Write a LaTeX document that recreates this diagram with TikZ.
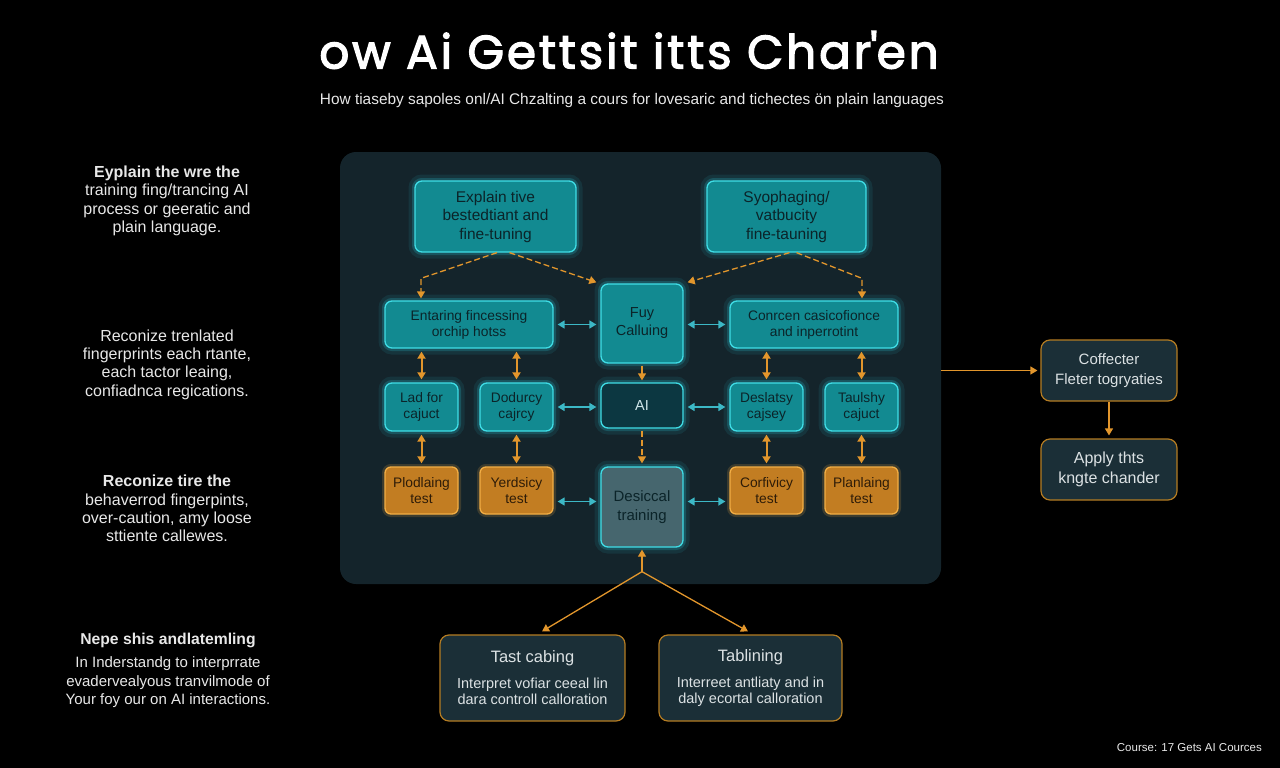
\documentclass[tikz,border=0pt]{standalone}
\usepackage{fontspec}
\setmainfont{Liberation Sans}
\newfontfamily\titlefont[FakeBold=2.6,LetterSpace=6]{Poppins}
\usetikzlibrary{arrows.meta}
\definecolor{bgc}{HTML}{000000}
\definecolor{panelc}{HTML}{14242B}
\definecolor{tealf}{HTML}{128A91}
\definecolor{cyline}{HTML}{3FDDE6}
\definecolor{cyglow}{HTML}{2BC8D8}
\definecolor{tealtxt}{HTML}{0B2429}
\definecolor{aifill}{HTML}{0C3741}
\definecolor{aitxt}{HTML}{CFE6EA}
\definecolor{msfill}{HTML}{46666E}
\definecolor{orfill}{HTML}{C27D22}
\definecolor{orline}{HTML}{F2AE45}
\definecolor{ortxt}{HTML}{2E1C08}
\definecolor{orarrow}{HTML}{E2962C}
\definecolor{cyarrow}{HTML}{3CB8C6}
\definecolor{darkfill}{HTML}{1B2F37}
\definecolor{goldline}{HTML}{B47C22}
\definecolor{lighttxt}{HTML}{DCE2E4}
\definecolor{sidetxt}{HTML}{E8E8E8}
\tikzset{
  glow/.style={preaction={draw=cyglow, line width=13pt, opacity=0.10},
               preaction={draw=cyglow, line width=6pt, opacity=0.22}},
  tbox/.style={glow, draw=cyline, line width=1.3pt, fill=tealf, rounded corners=7pt,
               text=tealtxt, align=center, inner sep=2pt, font=\fontsize{13.8}{16}\selectfont},
  obox/.style={preaction={draw=orline, line width=6pt, opacity=0.18},
               draw=orline, line width=1.3pt, fill=orfill, rounded corners=6pt,
               text=ortxt, align=center, inner sep=2pt, font=\fontsize{13.8}{16}\selectfont,
               minimum width=73pt, minimum height=47pt},
  dbox/.style={draw=goldline, line width=1.2pt, fill=darkfill, rounded corners=9pt,
               text=lighttxt, align=center, inner sep=2pt},
  small/.style={minimum width=73pt, minimum height=48pt},
  oarr/.style={draw=orarrow, line width=1.3pt, -{Triangle[length=7pt,width=8pt]}},
  odash/.style={oarr, dash pattern=on 6pt off 3pt},
  obi/.style={draw=orarrow, line width=2pt,
              {Triangle[length=7pt,width=8pt]}-{Triangle[length=7pt,width=8pt]},
              shorten <=3pt, shorten >=3pt},
  cbi/.style={draw=cyarrow, line width=1.6pt,
              {Triangle[length=7pt,width=8pt]}-{Triangle[length=7pt,width=8pt]},
              shorten <=4pt, shorten >=4pt},
  side/.style={text=sidetxt, align=center, inner sep=0pt, font=\fontsize{16}{18.4}\selectfont},
}
\begin{document}
\begin{tikzpicture}[x=1pt,y=-1pt]
\useasboundingbox (0,0) rectangle (1280,768);
\fill[bgc] (0,0) rectangle (1280,768);

% title
\node[text=white, font=\titlefont\fontsize{47}{52}\selectfont] (title) at (629,50) {ow Ai Gettsit itts Char\kern-1pt'\kern-1pt en};
\node[text=sidetxt, font=\fontsize{15.4}{17}\selectfont] (subtitle) at (632,101) {How tiaseby sapoles onl/AI Chzalting a cours for lovesaric and tichectes ön plain languages};

% left texts
\node[side] (l1) at (167,201) {\textbf{Eyplain the wre the}\\training fing/trancing AI\\process or geeratic and\\plain language.};
\node[side] (l2) at (167,364.5) {Reconize trenlated\\fingerprints each rtante,\\each tactor leaing,\\confiadnca regications.};
\node[side] (l3) at (167,508.5) {\textbf{Reconize tire the}\\behaverrod fingerpints,\\over-caution, amy loose\\sttiente callewes.};
\node[side, font=\bfseries\fontsize{15.7}{18}\selectfont] (l4h) at (168,640) {Nepe shis andlatemling};
\node[side, font=\fontsize{15}{18.4}\selectfont] (l4) at (168,682.5) {In Inderstandg to interprrate\\evadervealyous tranvilmode of\\Your foy our on AI interactions.};

% panel
\node[fill=panelc, rounded corners=16pt, minimum width=601pt, minimum height=432pt, inner sep=0pt] (panel) at (640.5,368) {};

% top row
\node[tbox, minimum width=161pt, minimum height=71pt, font=\fontsize{15.5}{18.5}\selectfont] (A) at (495.5,216.5) {Explain tive\\bestedtiant and\\fine-tuning};
\node[tbox, minimum width=159pt, minimum height=71pt, font=\fontsize{15.5}{18.5}\selectfont] (B) at (786.5,216.5) {Syophaging/\\vatbucity\\fine-tauning};

% second row
\node[tbox, minimum width=168pt, minimum height=47pt] (C) at (469,324.5) {Entaring fincessing\\orchip hotss};
\node[tbox, minimum width=82pt, minimum height=79pt, font=\fontsize{14.5}{18}\selectfont] (D) at (642,323.5) {Fuy\\Calluing};
\node[tbox, minimum width=168pt, minimum height=47pt] (E) at (814,324.5) {Conrcen casicofionce\\and inperrotint};

% third row
\node[tbox, small] (F) at (421.5,407) {Lad for\\cajuct};
\node[tbox, small] (G) at (516.5,407) {Dodurcy\\cajrcy};
\node[tbox, fill=aifill, text=aitxt, minimum width=82pt, minimum height=45pt, font=\fontsize{14.5}{17}\selectfont] (H) at (642,405.5) {AI};
\node[tbox, small] (I) at (766.5,407) {Deslatsy\\cajsey};
\node[tbox, small] (J) at (861.5,407) {Taulshy\\cajuct};

% fourth row
\node[obox] (K) at (421.5,490.5) {Plodlaing\\test};
\node[obox] (L) at (516.5,490.5) {Yerdsicy\\test};
\node[tbox, fill=msfill, text=tealtxt, minimum width=82pt, minimum height=80pt, font=\fontsize{15}{19}\selectfont] (M) at (642,507) {Desiccal\\training};
\node[obox] (N) at (766.5,490.5) {Corfivicy\\test};
\node[obox] (O) at (861.5,490.5) {Planlaing\\test};

% right boxes
\node[dbox, minimum width=136pt, minimum height=61pt, font=\fontsize{15}{20}\selectfont] (P) at (1109,370.5) {Coffecter\\Fleter togryaties};
\node[dbox, minimum width=136pt, minimum height=61pt, font=\fontsize{16}{20}\selectfont] (Q) at (1109,469.5) {Apply thts\\kngte chander};

% bottom boxes
\node[dbox, minimum width=185pt, minimum height=86pt, font=\fontsize{14.5}{16}\selectfont] (R) at (532.5,678) {{\fontsize{16.5}{18}\selectfont Tast cabing}\\[10pt]Interpret vofiar ceeal lin\\dara controll calloration};
\node[dbox, minimum width=183pt, minimum height=86pt, font=\fontsize{14.5}{16}\selectfont] (S) at (750.5,678) {{\fontsize{16.5}{18}\selectfont Tablining}\\[10pt]Interreet antliaty and in\\daly ecortal calloration};

% footer
\node[text=sidetxt, anchor=east, inner sep=0pt, font=\fontsize{11.5}{14}\selectfont] (foot) at (1262,748) {Course: 17 Gets AI Cources};

% connectors: top dashed
\draw[odash] ([xshift=1.5pt]A.south) -- ([xshift=-48pt,yshift=22pt]C.north) -- ([xshift=-48pt,yshift=2pt]C.north);
\draw[odash] ([xshift=14pt]A.south) -- ([xshift=-4pt,yshift=1pt]D.north west);
\draw[odash] ([xshift=3pt]B.south) -- ([xshift=4pt,yshift=1pt]D.north east);
\draw[odash] ([xshift=10pt]B.south) -- ([xshift=48pt,yshift=22pt]E.north) -- ([xshift=48pt,yshift=2pt]E.north);

% cyan horizontals
\draw[cbi] (C.east) -- (C.east -| D.west);
\draw[cbi] (E.west -| D.east) -- (E.west);
\draw[cbi] (G.east) -- (G.east -| H.west);
\draw[cbi] (I.west -| H.east) -- (I.west);
\draw[cbi] ([yshift=-11pt]L.east) -- ([yshift=-11pt]L.east -| M.west);
\draw[cbi] ([yshift=-11pt]N.west -| M.east) -- ([yshift=-11pt]N.west);

% orange verticals
\draw[obi] (F.north |- C.south) -- (F.north);
\draw[obi] (G.north |- C.south) -- (G.north);
\draw[obi] (I.north |- E.south) -- (I.north);
\draw[obi] (J.north |- E.south) -- (J.north);
\draw[obi] (F.south) -- (K.north);
\draw[obi] (G.south) -- (L.north);
\draw[obi] (I.south) -- (N.north);
\draw[obi] (J.south) -- (O.north);
\draw[oarr, shorten <=2pt, shorten >=2pt] (D.south) -- (H.north);
\draw[odash, shorten <=2pt, shorten >=3pt] (H.south) -- (M.north);

% bottom fan
\coordinate (jn) at ([yshift=-24pt]M.south);
\draw[oarr, shorten >=2pt] (jn) -- (M.south);
\draw[oarr] (jn) -- ([xshift=9.5pt,yshift=3pt]R.north);
\draw[oarr] (jn) -- ([xshift=-2.5pt,yshift=3pt]S.north);

% right side
\draw[oarr, shorten >=3pt] (panel.east |- P.west) -- (P.west);
\draw[oarr, shorten >=3pt] (P.south) -- (Q.north);
\end{tikzpicture}
\end{document}
